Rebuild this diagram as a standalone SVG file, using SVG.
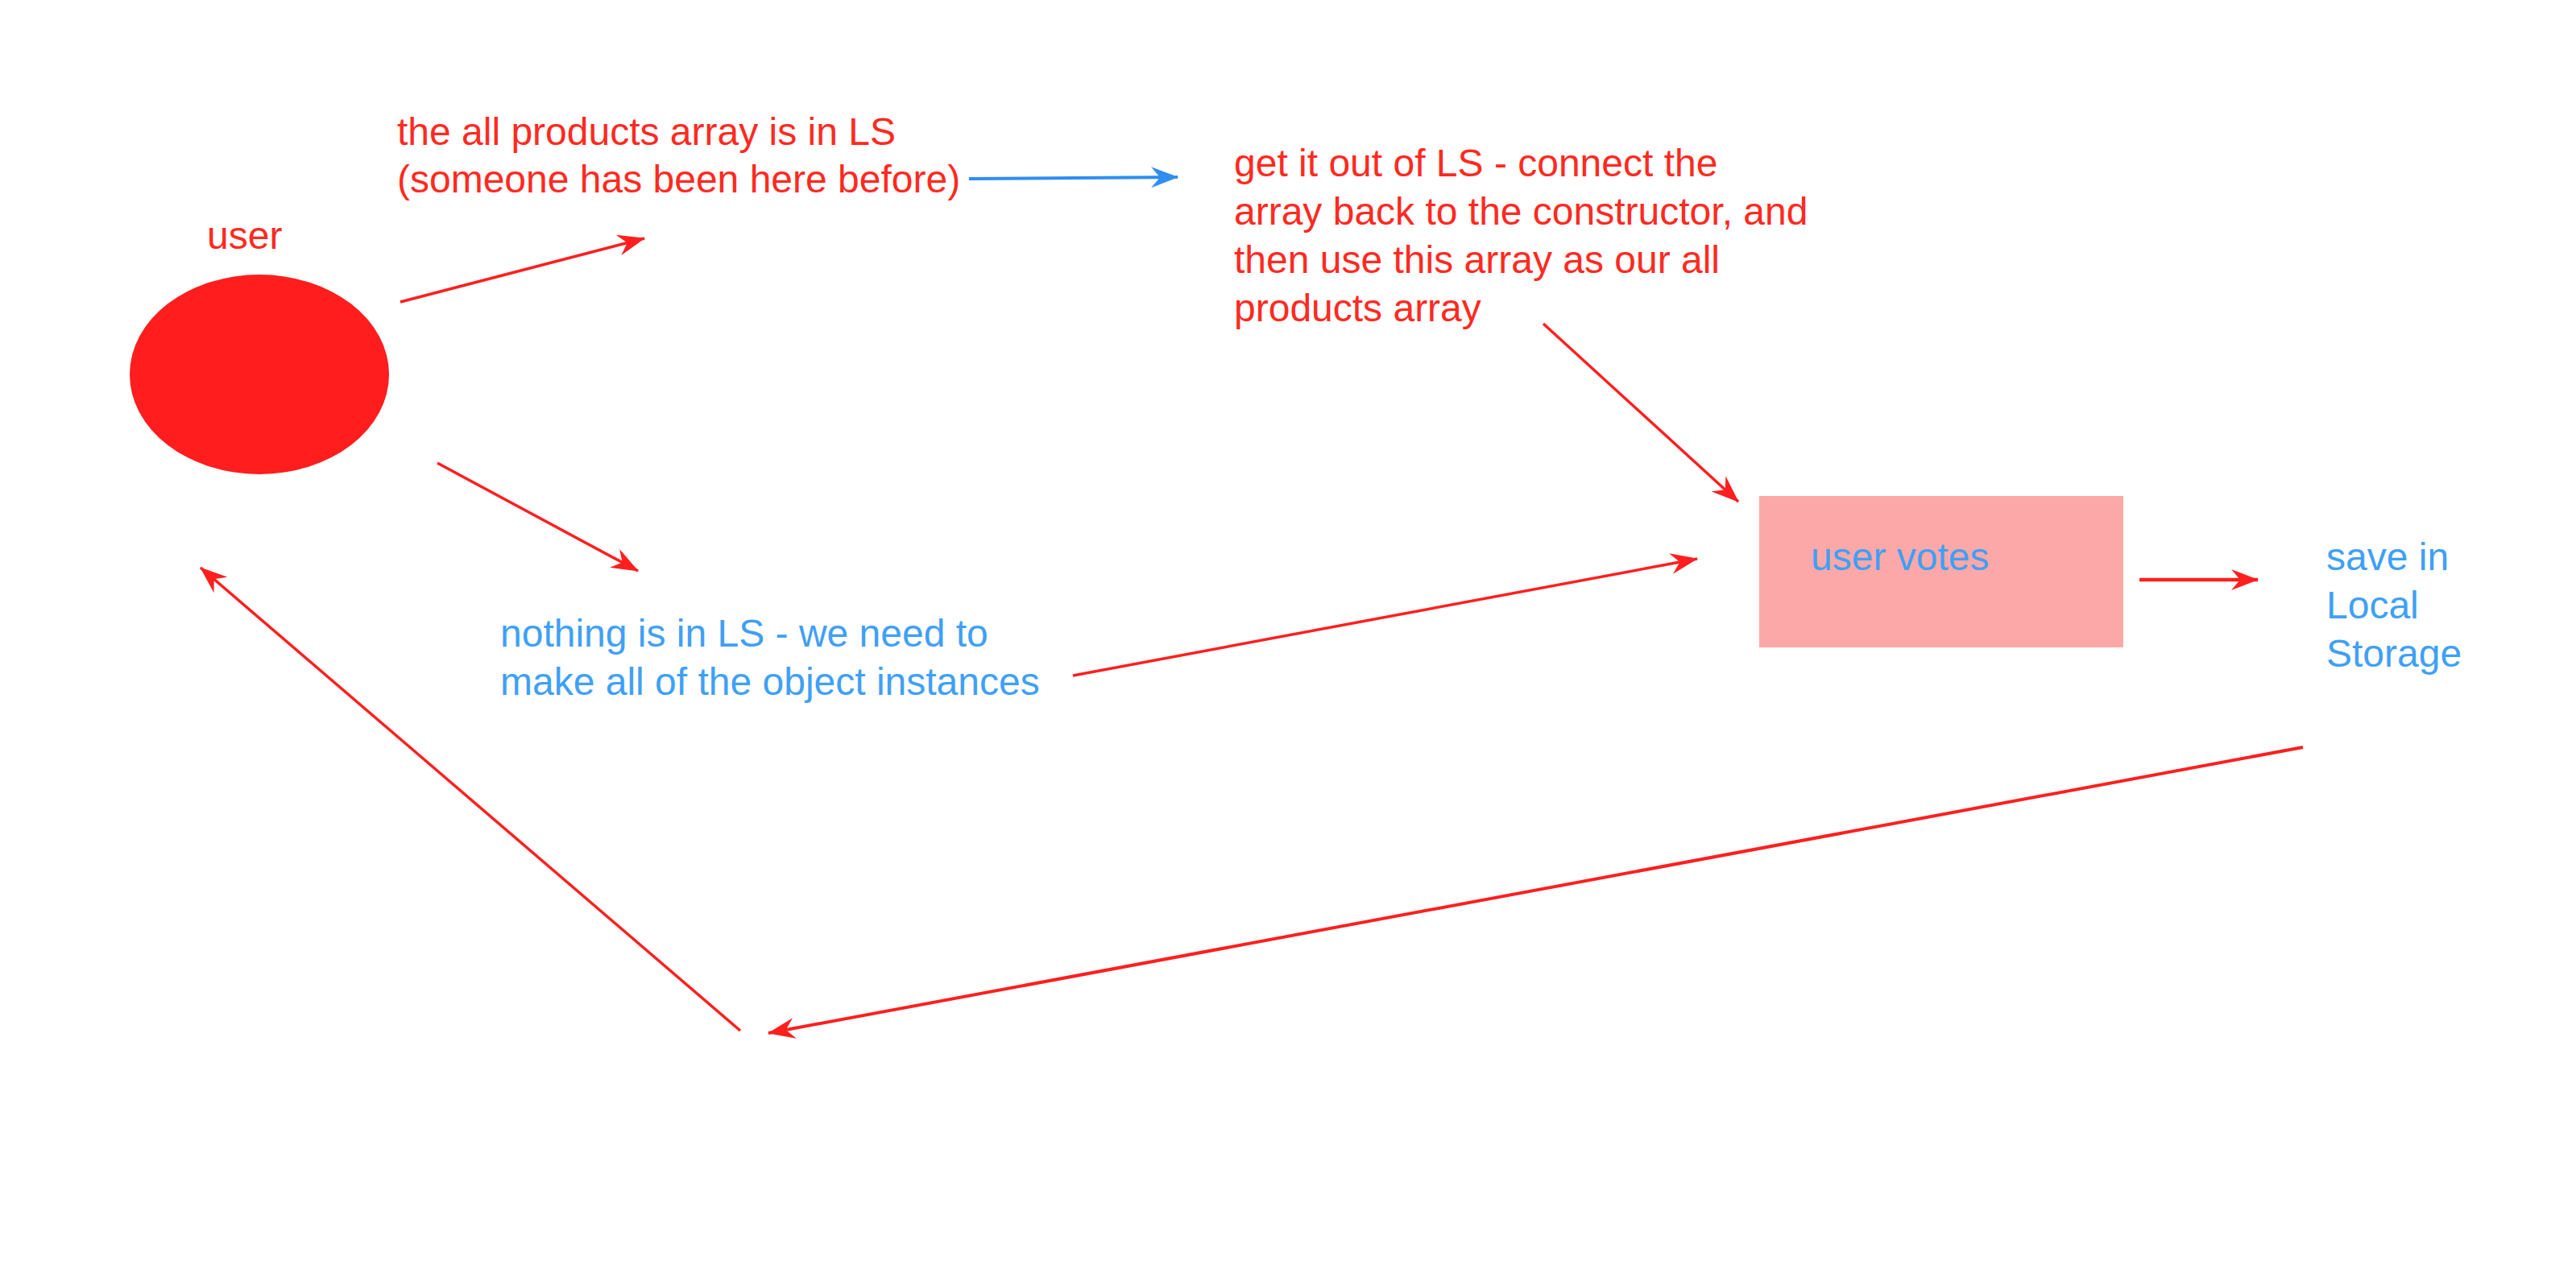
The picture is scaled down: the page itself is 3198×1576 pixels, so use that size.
<svg xmlns="http://www.w3.org/2000/svg" width="3198" height="1576" viewBox="0 0 3198 1576">
<style>
text{font-family:"Liberation Sans",Arial,Helvetica,sans-serif;font-size:48px}
.r{fill:#ff2a1f}
.b{fill:#3fa0f5}
.ln{fill:none;stroke:#ff1f1f;stroke-width:3.5;marker-end:url(#ar)}
.lb{fill:none;stroke:#2e8ef2;stroke-width:4;marker-end:url(#ab)}
</style>
<defs>
<marker id="ar" viewBox="0 0 34 26" refX="33" refY="13" markerWidth="34" markerHeight="26" markerUnits="userSpaceOnUse" orient="auto">
<path d="M34,13 L0,0 L11,13 L0,26 Z" fill="#ff1f1f"/>
</marker>
<marker id="ab" viewBox="0 0 34 26" refX="33" refY="13" markerWidth="34" markerHeight="26" markerUnits="userSpaceOnUse" orient="auto">
<path d="M34,13 L0,0 L11,13 L0,26 Z" fill="#2e8ef2"/>
</marker>
</defs>
<rect width="3198" height="1576" fill="#ffffff"/>
<g id="connectors">
<line class="ln" x1="497" y1="375" x2="800" y2="296"/>
<line class="ln" x1="543" y1="575" x2="792" y2="709"/>
<line class="lb" x1="1203" y1="222" x2="1462" y2="220"/>
<line class="ln" x1="1916" y1="402" x2="2158" y2="623"/>
<line class="ln" x1="1332" y1="839" x2="2107" y2="694"/>
<line class="ln" x1="2656" y1="720" x2="2803" y2="720" style="stroke-width:4.5"/>
<line class="ln" x1="2859" y1="928" x2="954" y2="1283" style="stroke-width:4"/>
<line class="ln" x1="919" y1="1280" x2="249" y2="705"/>
</g>
<g id="user">
<ellipse cx="322" cy="465" rx="161" ry="124" fill="#ff1d1d"/>
<text class="r" x="257" y="309">user</text>
</g>
<g id="ls-present">
<text class="r" x="493" y="180">the all products array is in LS</text>
<text class="r" x="493" y="239">(someone has been here before)</text>
</g>
<g id="get-out-of-ls">
<text class="r" x="1532" y="219">get it out of LS - connect the</text>
<text class="r" x="1532" y="279">array back to the constructor, and</text>
<text class="r" x="1532" y="339">then use this array as our all</text>
<text class="r" x="1532" y="399">products array</text>
</g>
<g id="nothing-in-ls">
<text class="b" x="621" y="803">nothing is in LS - we need to</text>
<text class="b" x="621" y="863">make all of the object instances</text>
</g>
<g id="user-votes">
<rect x="2184" y="616" width="452" height="188" fill="#fca8a8"/>
<text class="b" x="2248" y="708">user votes</text>
</g>
<g id="save-ls">
<text class="b" x="2888" y="708">save in</text>
<text class="b" x="2888" y="768">Local</text>
<text class="b" x="2888" y="828">Storage</text>
</g>
</svg>
